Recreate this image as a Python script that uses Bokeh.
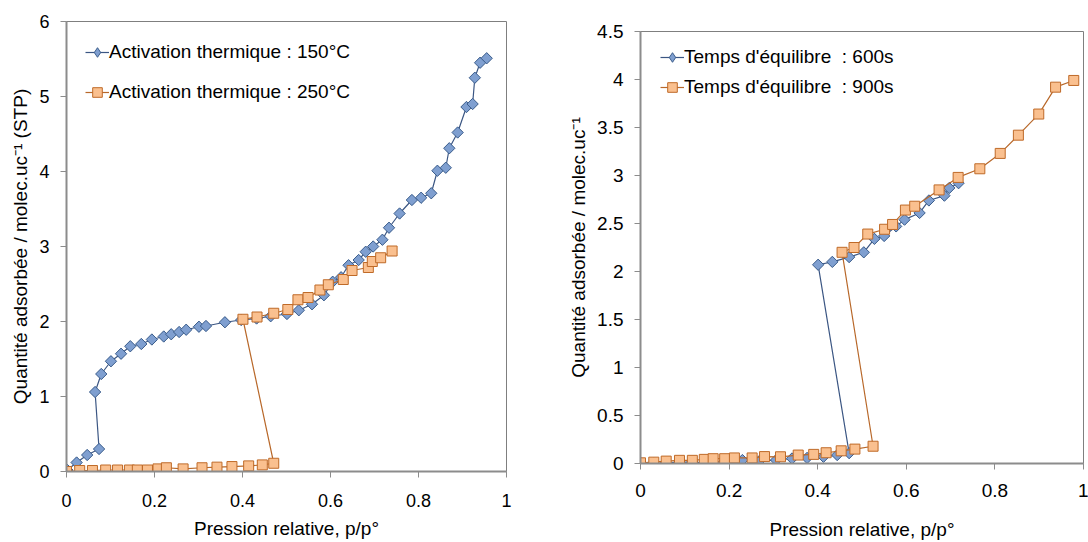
from bokeh.plotting import figure
from bokeh.layouts import row, column
from bokeh.models import Range1d, FixedTicker, Legend, LegendItem
from bokeh.embed import file_html
from bokeh.resources import INLINE
import numpy as np

# ---------------- data: left panel ----------------
x_150 = [0.002, 0.023, 0.047, 0.074, 0.065, 0.079, 0.101, 0.124, 0.145, 0.170, 0.194,
         0.221, 0.238, 0.256, 0.272, 0.301, 0.317, 0.360, 0.397, 0.432, 0.464, 0.501,
         0.528, 0.558, 0.585, 0.605, 0.624, 0.641, 0.664, 0.680, 0.697, 0.718, 0.733,
         0.757, 0.785, 0.806, 0.829, 0.843, 0.862, 0.870, 0.889, 0.909, 0.923, 0.928,
         0.940, 0.955]
y_150 = [0.02, 0.12, 0.22, 0.30, 1.06, 1.30, 1.47, 1.57, 1.67, 1.70, 1.76,
         1.80, 1.83, 1.86, 1.89, 1.93, 1.94, 1.99, 2.02, 2.04, 2.07, 2.10,
         2.15, 2.23, 2.35, 2.53, 2.59, 2.75, 2.82, 2.93, 3.00, 3.09, 3.25,
         3.44, 3.62, 3.65, 3.71, 4.01, 4.05, 4.31, 4.52, 4.86, 4.90, 5.25,
         5.45, 5.51]

x_250 = [0.0, 0.030, 0.059, 0.089, 0.116, 0.143, 0.161, 0.184, 0.208, 0.227, 0.265,
         0.308, 0.342, 0.376, 0.414, 0.445, 0.471, 0.401, 0.433, 0.471, 0.503, 0.526,
         0.549, 0.576, 0.595, 0.629, 0.649, 0.686, 0.695, 0.714, 0.740]
y_250 = [0.0, 0.013, 0.013, 0.02, 0.02, 0.02, 0.02, 0.02, 0.035, 0.05, 0.035,
         0.05, 0.058, 0.066, 0.075, 0.088, 0.11, 2.03, 2.06, 2.11, 2.16, 2.29,
         2.32, 2.42, 2.49, 2.56, 2.68, 2.72, 2.80, 2.85, 2.94]

# ---------------- data: right panel ----------------
x_600 = [0.0, 0.030, 0.058, 0.088, 0.117, 0.145, 0.164, 0.185, 0.207, 0.230, 0.268,
         0.306, 0.342, 0.376, 0.413, 0.444, 0.471, 0.401, 0.433, 0.471, 0.504, 0.528,
         0.550, 0.577, 0.596, 0.630, 0.651, 0.686, 0.697, 0.718]
y_600 = [0.007, 0.0, 0.007, 0.014, 0.014, 0.007, 0.0, 0.0, 0.014, 0.036, 0.025,
         0.036, 0.052, 0.058, 0.07, 0.088, 0.108, 2.07, 2.10, 2.15, 2.20, 2.34,
         2.37, 2.47, 2.54, 2.61, 2.74, 2.79, 2.87, 2.92]

x_900 = [0.0, 0.030, 0.058, 0.088, 0.117, 0.144, 0.164, 0.190, 0.212, 0.252, 0.280,
         0.316, 0.356, 0.391, 0.419, 0.453, 0.484, 0.525, 0.455, 0.482, 0.513, 0.551,
         0.569, 0.598, 0.619, 0.674, 0.717, 0.766, 0.812, 0.853, 0.899, 0.937, 0.978]
y_900 = [0.007, 0.014, 0.025, 0.033, 0.033, 0.043, 0.05, 0.05, 0.058, 0.058, 0.072,
         0.07, 0.088, 0.095, 0.112, 0.132, 0.15, 0.18, 2.20, 2.25, 2.39, 2.44,
         2.49, 2.64, 2.68, 2.85, 2.98, 3.07, 3.23, 3.42, 3.64, 3.92, 3.99]

left_yticks = [0, 1, 2, 3, 4, 5, 6]
right_yticks = [0, 0.5, 1, 1.5, 2, 2.5, 3, 3.5, 4, 4.5]
xticks = [0, 0.2, 0.4, 0.6, 0.8, 1]

labels_left = ["Activation thermique : 150°C", "Activation thermique : 250°C"]
labels_right = ["Temps d'équilibre  : 600s", "Temps d'équilibre  : 900s"]
xlabel = "Pression relative, p/p°"
ylabel_left = "Quantité adsorbée / molec.uc⁻¹ (STP)"
ylabel_right = "Quantité adsorbée / molec.uc⁻¹"

FONT = "Liberation Sans"
BLUE_FILL = "#7F9FD0"
BLUE_EDGE = "#3C5E8C"
BLUE_LINE = "#3B5683"
OR_FILL = "#FAC08F"
OR_EDGE = "#BF6A28"
OR_LINE = "#B8682A"


def make_fig(width, height, mb_left, mb_right, mb_top, mb_bottom, ymax, yticks,
             ylabel, tick_size, x_label_standoff, x_tick_standoff, y_label_standoff):
    p = figure(width=width, height=height, output_backend="svg", toolbar_location=None,
               title=None,
               x_range=Range1d(0, 1), y_range=Range1d(0, ymax),
               min_border_left=mb_left, min_border_right=mb_right,
               min_border_top=mb_top, min_border_bottom=mb_bottom)
    p.grid.visible = False
    p.outline_line_color = "#7F7F7F"
    p.outline_line_width = 1
    p.background_fill_color = "white"
    p.border_fill_color = "white"
    for ax in (p.xaxis[0], p.yaxis[0]):
        ax.axis_line_color = "#8C8C8C"
        ax.axis_line_width = 2
        ax.major_tick_line_color = "#8C8C8C"
        ax.major_tick_line_width = 1
        ax.major_tick_out = 6
        ax.major_tick_in = 0
        ax.minor_tick_out = 0
        ax.minor_tick_in = 0
        ax.major_label_text_font = FONT
        ax.major_label_text_font_size = tick_size
        ax.major_label_text_color = "black"
        ax.axis_label_text_font = FONT
        ax.axis_label_text_font_size = "19px"
        ax.axis_label_text_font_style = "normal"
        ax.axis_label_text_color = "black"
    p.xaxis.ticker = FixedTicker(ticks=xticks)
    p.yaxis.ticker = FixedTicker(ticks=yticks)
    p.xaxis.axis_label = xlabel
    p.yaxis.axis_label = ylabel
    p.xaxis.major_label_standoff = x_tick_standoff
    p.xaxis.axis_label_standoff = x_label_standoff
    p.yaxis.major_label_standoff = 11
    p.yaxis.axis_label_standoff = y_label_standoff
    return p


def add_series(p, xs, ys, kind):
    """Draw a series; return the renderers to show in its legend entry."""
    if kind == "blue":
        r1 = p.line(xs, ys, line_color=BLUE_LINE, line_width=1.2)
        # diamond glyph (used by the legend, which does not rotate markers);
        # in the plot it sits under the rotated squares drawn next
        r2 = p.scatter(xs, ys, marker="diamond", size=10,
                       fill_color=BLUE_FILL, line_color=BLUE_EDGE, line_width=1)
        p.scatter(xs, ys, marker="square", angle=np.pi / 4, size=8,
                  fill_color=BLUE_FILL, line_color=BLUE_EDGE, line_width=1)
    else:
        r1 = p.line(xs, ys, line_color=OR_LINE, line_width=1.2)
        r2 = p.scatter(xs, ys, marker="square", size=10,
                       fill_color=OR_FILL, line_color=OR_EDGE, line_width=1)
    return [r1, r2]


def style_legend(leg, location, margin, spacing):
    leg.location = location
    leg.margin = margin
    leg.padding = 0
    leg.border_line_color = None
    leg.background_fill_alpha = 0
    leg.label_text_font = FONT
    leg.label_text_font_size = "19px"
    leg.label_text_color = "black"
    leg.glyph_width = 24
    leg.glyph_height = 24
    leg.label_height = 24
    leg.label_standoff = 0
    leg.spacing = spacing


# ---------------- left figure ----------------
p1 = make_fig(560, 542, 66, 54, 21, 71, 6, left_yticks, ylabel_left, "18px",
              x_label_standoff=8, x_tick_standoff=16, y_label_standoff=5)
b1 = add_series(p1, x_150, y_150, "blue")
o1 = add_series(p1, x_250, y_250, "orange")
leg1 = Legend(items=[LegendItem(label=labels_left[0], renderers=b1),
                     LegendItem(label=labels_left[1], renderers=o1)])
style_legend(leg1, "top_left", 19, 16)
p1.add_layout(leg1)

# ---------------- right figure ----------------
p2 = make_fig(528, 542, 80, 5, 31, 79, 4.5, right_yticks, ylabel_right, "19px",
              x_label_standoff=19, x_tick_standoff=14, y_label_standoff=5)
b2 = add_series(p2, x_600, y_600, "blue")
o2 = add_series(p2, x_900, y_900, "orange")
leg2 = Legend(items=[LegendItem(label=labels_right[0], renderers=b2),
                     LegendItem(label=labels_right[1], renderers=o2)])
style_legend(leg2, (20, 364), 0, 6)
p2.add_layout(leg2)

layout = row(column(p1), column(p2), spacing=0)
open("out.html", "w").write(file_html(layout, INLINE))
